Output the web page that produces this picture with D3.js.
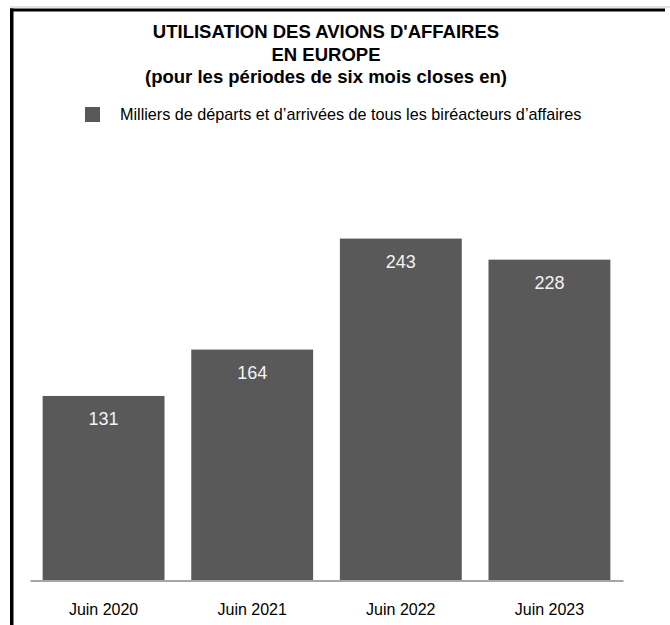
<!DOCTYPE html>
<html>
<head>
<meta charset="utf-8">
<script src="https://cdn.jsdelivr.net/npm/d3@7"></script>
<style>
  body { margin: 0; background: #fff; }
  svg { display: block; font-family: "Liberation Sans", Arial, sans-serif; }
</style>
</head>
<body>
<div id="chart"></div>
<script>
// Data
const categories = ['Juin 2020', 'Juin 2021', 'Juin 2022', 'Juin 2023'];
const values = [131, 164, 243, 228];
const titleLines = [
  "UTILISATION DES AVIONS D'AFFAIRES",
  'EN EUROPE',
  '(pour les périodes de six mois closes en)'
];
const legendLabel = 'Milliers de départs et d’arrivées de tous les biréacteurs d’affaires';

const width = 670;
const height = 625;
const barColor = '#595959';

const svg = d3.select('#chart')
  .append('svg')
  .attr('width', width)
  .attr('height', height)
  .attr('viewBox', `0 0 ${width} ${height}`);

// Frame: faint line on top, heavy black top and left border
svg.append('line')
  .attr('x1', 10).attr('x2', width)
  .attr('y1', 7).attr('y2', 7)
  .attr('stroke', '#c8c8c8')
  .attr('stroke-width', 1);

svg.append('rect')
  .attr('x', 10).attr('y', 8.5)
  .attr('width', 655).attr('height', 3)
  .attr('fill', '#000');

svg.append('rect')
  .attr('x', 10).attr('y', 8.5)
  .attr('width', 3.5).attr('height', height - 8.5)
  .attr('fill', '#000');

// Title
svg.append('g')
  .selectAll('text')
  .data(titleLines)
  .join('text')
  .attr('x', 326)
  .attr('y', (d, i) => 38 + i * 22.5)
  .attr('text-anchor', 'middle')
  .attr('font-size', '18.5px')
  .attr('font-weight', 'bold')
  .attr('fill', '#000')
  .text(d => d);

// Legend
const legend = svg.append('g').attr('transform', 'translate(85, 107)');
legend.append('rect')
  .attr('width', 15)
  .attr('height', 15)
  .attr('fill', barColor);
legend.append('text')
  .attr('x', 35)
  .attr('y', 13)
  .attr('font-size', '16.2px')
  .attr('fill', '#000')
  .text(legendLabel);

// Scales
const x = d3.scaleBand()
  .domain(categories)
  .range([30, 623])
  .paddingInner(0.18)
  .paddingOuter(0.085);

const y = d3.scaleLinear()
  .domain([0, 300])
  .range([580, 158.5]);

// Bars
svg.append('g')
  .selectAll('rect')
  .data(values)
  .join('rect')
  .attr('x', (d, i) => x(categories[i]))
  .attr('y', d => y(d))
  .attr('width', x.bandwidth())
  .attr('height', d => y(0) - y(d))
  .attr('fill', barColor);

// Value labels inside bars
svg.append('g')
  .selectAll('text')
  .data(values)
  .join('text')
  .attr('x', (d, i) => x(categories[i]) + x.bandwidth() / 2)
  .attr('y', d => y(d) + 29)
  .attr('text-anchor', 'middle')
  .attr('font-size', '18px')
  .attr('fill', '#f2f2f2')
  .text(d => d);

// Category axis
const xAxis = svg.append('g')
  .attr('transform', `translate(0, ${y(0) + 0.5})`)
  .call(d3.axisBottom(x).tickSize(0).tickPadding(23));

xAxis.select('.domain')
  .attr('stroke', '#a6a6a6')
  .attr('stroke-width', 2);

xAxis.selectAll('text')
  .attr('font-size', '16px')
  .attr('font-family', '"Liberation Sans", Arial, sans-serif')
  .attr('fill', '#000');
</script>
</body>
</html>
